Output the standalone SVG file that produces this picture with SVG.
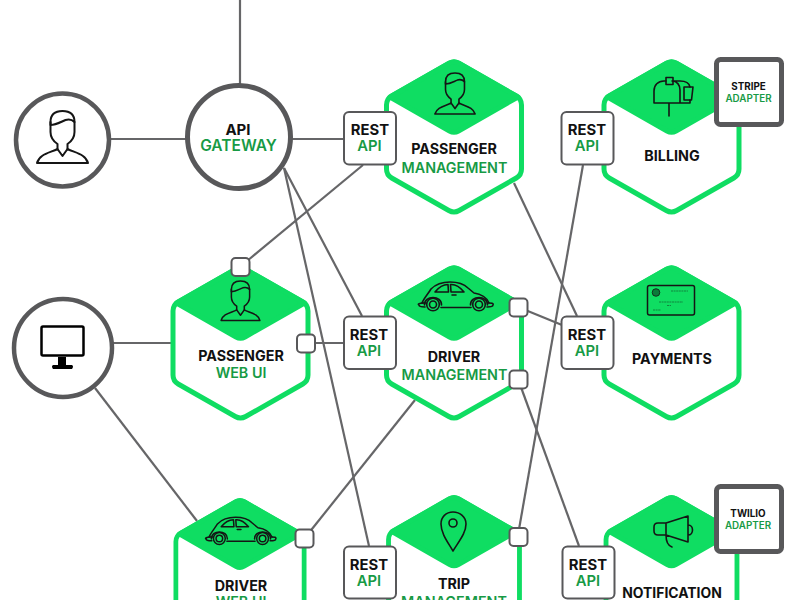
<svg xmlns="http://www.w3.org/2000/svg" xmlns:xlink="http://www.w3.org/1999/xlink" width="800" height="600" viewBox="0 0 800 600">
<style>
text{font-family:"Inter","Liberation Sans",Arial,sans-serif;font-weight:600;text-anchor:middle}
.k{fill:#111;font-weight:700}.g{fill:#179a45}
.hl{font-size:14.3px}.ad{font-size:9.8px}.r{font-size:14.8px}
.hex{fill:#fff;stroke:#0fdd62;stroke-width:5;stroke-linejoin:round}
.rh{fill:#0fdd62;stroke:#0fdd62;stroke-width:5;stroke-linejoin:round}
.box{fill:#fff;stroke:#58585a;stroke-width:2}
.port{fill:#fff;stroke:#58585a;stroke-width:2}
.circ{fill:#fff;stroke:#58585a;stroke-width:5}
.adb{fill:#fff;stroke:#58585a;stroke-width:5}
.ic{fill:none;stroke:#151515;stroke-width:1.6;stroke-linejoin:round;stroke-linecap:round}
#connectors line{stroke:#666668;stroke-width:2.2}
</style>
<defs>
<g id="hexa"><path class="hex" d="M-5.200-73.500Q0-76.500 5.200-73.500L62.300-41Q67.500-38 67.500-32V32Q67.500 38 62.300 41L5.200 73.500Q0 76.500-5.200 73.500L-62.300 41Q-67.500 38-67.500 32V-32Q-67.500-38-62.300-41Z"/><path class="rh" d="M-4.500-74Q0-76.500 4.500-74L64-40L4.500-6Q0-3.500-4.500-6L-64-40Z"/></g>
<g id="person" class="ic" style="stroke-width:2"><path d="M-12 11V21C-12 27-8 31-5 33V38M12 11V21C12 27 8 31 5 33V38"/><path d="M-12 14V11C-12 3-7 0 0 0C7 0 12 3 12 11C9 8 6 8 3 9C-2 11-6 14-12 14Z"/><path d="M-25.500 52C-23 43-13 42-5 38L0 45L5 38C13 42 23 43 25.500 52Z"/></g>
<g id="car" class="ic"><path d="M426 303H422C424 298 428 294 431 289C436 284 442 282 450 282C458 282 464 284 468 288L474 293C481 294 487 298 489 303H487.500"/><path d="M441 307.500H471"/><path d="M424.500 305C424 295 442 295 441.500 305M470.500 305C470 295 488 295 487.500 305"/><circle cx="433" cy="304.500" r="6.300"/><circle cx="433" cy="304.500" r="3.500"/><circle cx="479" cy="304.500" r="6.300"/><circle cx="479" cy="304.500" r="3.500"/><path d="M435 292C439 287 444 284.500 448 284.500L448.500 292ZM450.500 284.500C456 284 460 287 464 292H451Z"/><path d="M419 305C417 304 420 303 423 303M419 305C419 307 422 307 425 307M493 305C494 303 491 303 489 303M493 305C493 307 490 307 487 307M452 295H456"/></g>
</defs>
<g id="connectors">
<line x1="240" y1="0" x2="240" y2="85"/>
<line x1="110" y1="139" x2="187" y2="139"/>
<line x1="291" y1="139" x2="345" y2="139"/>
<line x1="363" y1="165" x2="247" y2="261"/>
<line x1="284" y1="168" x2="362" y2="316"/>
<line x1="284" y1="168" x2="369" y2="546"/>
<line x1="113" y1="343" x2="173" y2="343"/>
<line x1="95" y1="388" x2="197" y2="521"/>
<line x1="306" y1="343" x2="345" y2="343"/>
<line x1="308" y1="534" x2="415" y2="400"/>
<line x1="514" y1="183" x2="577" y2="316"/>
<line x1="583" y1="165" x2="518" y2="535"/>
<line x1="518" y1="307" x2="562" y2="325"/>
<line x1="518" y1="379" x2="579" y2="546"/>
</g>
<g id="client-person"><circle class="circ" cx="62.500" cy="140" r="46.500" style="stroke-width:4.500"/><use href="#person" transform="translate(62.500 111)"/></g>
<g id="api-gateway"><circle class="circ" cx="239" cy="137" r="51.500"/><text class="k hl" x="238" y="135" style="font-size:15px">API</text><text class="g hl" x="238.500" y="151" style="font-size:15.500px">GATEWAY</text></g>
<g id="client-monitor"><circle class="circ" cx="63" cy="348" r="49" style="stroke-width:4.500"/><rect x="41.500" y="326.500" width="42" height="29" rx="1.500" fill="#fff" stroke="#000" stroke-width="2.500"/><path d="M58 357H66V365H72Q74 366 72 369H53Q51 366 53 365H58Z" fill="#000"/></g>

<g id="passenger-management"><use href="#hexa" transform="translate(454 137)"/><use href="#person" transform="translate(455 73) scale(.79)"/><text class="k hl" x="454" y="154">PASSENGER</text><text class="g hl" x="454.500" y="172.500">MANAGEMENT</text></g>
<g id="billing"><use href="#hexa" transform="translate(671.500 137)"/><g class="ic"><path d="M654 103V91C654 85 658 81 664 81H666M673 81H680C685 81 689 82 690 87M654 103H690V100M680 103V90C680 85 677 81 672 81M669 103V116"/><rect x="666" y="77.500" width="7" height="7"/><path d="M684 87H693L691.500 100H684Z"/></g><text class="k hl" x="672" y="161">BILLING</text></g>
<g id="passenger-web-ui"><use href="#hexa" transform="translate(240.500 343)"/><use href="#person" transform="translate(240.500 281) scale(.76)"/><text class="k hl" x="241" y="360.500">PASSENGER</text><text class="g hl" x="241" y="378">WEB UI</text></g>
<g id="driver-management"><use href="#hexa" transform="translate(454 343)"/><use href="#car"/><text class="k hl" x="454" y="361.500">DRIVER</text><text class="g hl" x="454.500" y="380">MANAGEMENT</text></g>
<g id="payments"><use href="#hexa" transform="translate(671.500 343)"/><rect x="647.500" y="285.500" width="47" height="29.500" rx="2" fill="none" stroke="#151515" stroke-width="1.500"/><circle cx="656" cy="292.500" r="3.800" fill="#0b7a3a" stroke="#151515" stroke-width=".8"/><path d="M671 291H688M659 302H683M667 305.500H671M653 310H661" stroke="#151515" stroke-opacity=".55" stroke-width=".8" stroke-dasharray="2 .6" fill="none"/><text class="k hl" x="672" y="364">PAYMENTS</text></g>
<g id="driver-web-ui"><use href="#hexa" transform="translate(240 572) scale(.95)"/><use href="#car" transform="translate(240.500 531) scale(.94) translate(-455.500 -296.500)"/><text class="k hl" x="241" y="591">DRIVER</text><text class="g hl" x="241" y="607">WEB UI</text></g>
<g id="trip-management"><use href="#hexa" transform="translate(454 570.500) scale(.97)"/><g class="ic"><path d="M453 551C447 541 441 533 441 524C441 517 446 512 453 512C460 512 466 517 466 524C466 533 459 541 453 551Z"/><circle cx="453" cy="523" r="4"/></g><text class="k hl" x="454" y="589">TRIP</text><text class="g hl" x="454" y="607">MANAGEMENT</text></g>
<g id="notification"><use href="#hexa" transform="translate(671.500 570.500) scale(.97)"/><g class="ic"><path d="M666 523L688 516V542L666 535H658Q654 535 654 531V527Q654 523 658 523ZM666 523V535C666 542 669 546 672 547M688 525C694 525 694 535 688 535"/></g><text class="k hl" x="672" y="598" style="font-size:13.900px">NOTIFICATION</text></g>

<g id="rest-api-1"><rect class="box" x="344" y="112" width="52" height="52.500" rx="5"/><text class="k r" x="370" y="135">REST</text><text class="g r" x="369.500" y="151">API</text></g>
<g id="rest-api-2"><rect class="box" x="561.500" y="112" width="52" height="52.500" rx="5"/><text class="k r" x="587" y="135">REST</text><text class="g r" x="587" y="151">API</text></g>
<g id="rest-api-3"><rect class="box" x="344" y="316.500" width="52" height="52.500" rx="5"/><text class="k r" x="369" y="340">REST</text><text class="g r" x="369" y="356">API</text></g>
<g id="rest-api-4"><rect class="box" x="561.500" y="316.500" width="52" height="52.500" rx="5"/><text class="k r" x="587" y="340">REST</text><text class="g r" x="587" y="356">API</text></g>
<g id="rest-api-5"><rect class="box" x="344" y="546.500" width="52" height="52" rx="5"/><text class="k r" x="369" y="570">REST</text><text class="g r" x="369" y="586">API</text></g>
<g id="rest-api-6"><rect class="box" x="562.500" y="546.500" width="52" height="52" rx="5"/><text class="k r" x="588" y="570">REST</text><text class="g r" x="588" y="586">API</text></g>

<g id="stripe-adapter"><rect class="adb" x="716.500" y="59.500" width="65" height="65" rx="4"/><text class="k ad" x="748.500" y="90">STRIPE</text><text class="g ad" x="748.500" y="101.500">ADAPTER</text></g>
<g id="twilio-adapter"><rect class="adb" x="716.500" y="486.500" width="65" height="65" rx="4"/><text class="k ad" x="748" y="517">TWILIO</text><text class="g ad" x="748" y="529">ADAPTER</text></g>

<g id="port-1"><rect class="port" x="231.500" y="258" width="18" height="18" rx="4"/></g>
<g id="port-2"><rect class="port" x="297" y="334.500" width="18" height="18" rx="4"/></g>
<g id="port-3"><rect class="port" x="509.500" y="298.500" width="18" height="18" rx="4"/></g>
<g id="port-4"><rect class="port" x="509.500" y="370.500" width="18" height="18" rx="4"/></g>
<g id="port-5"><rect class="port" x="509.500" y="528" width="18" height="18" rx="4"/></g>
<g id="port-6"><rect class="port" x="295.500" y="529.500" width="18" height="18" rx="4"/></g>
</svg>
